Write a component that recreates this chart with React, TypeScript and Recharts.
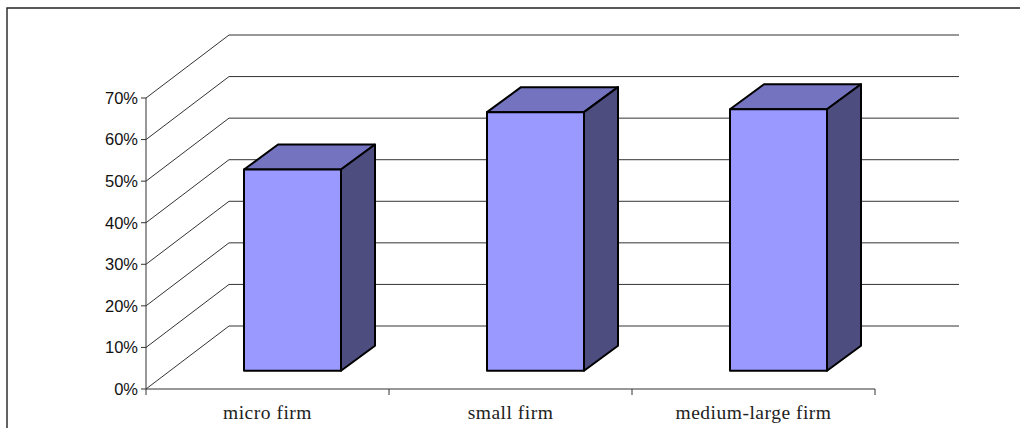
import { BarChart, Bar, XAxis, YAxis, CartesianGrid } from 'recharts'

const categories = ['micro firm', 'small firm', 'medium-large firm']
const shares = [48.4, 62.2, 62.9]
const yTicks = [0, 10, 20, 30, 40, 50, 60, 70]

const rows = categories.map((name, i) => ({ name, share: shares[i] }))

const FRONT = '#9999ff'
const TOP = '#7373bf'
const SIDE = '#4d4d80'
const GRID = '#333'

// projection of the 3D look: back wall offset, and where the bars sit in the depth
const WALL_DX = 83
const WALL_DY = -63
const BAR_DX = 25
const BAR_DY = -18.3
const BOX_DX = 34
const BOX_DY = -25

function WallLine(props: any) {
  const { x1, x2, y1, index } = props
  return (
    <path
      key={index}
      d={`M${x1},${y1} L${x1 + WALL_DX},${y1 + WALL_DY} L${x2 + WALL_DX + 1},${y1 + WALL_DY}`}
      fill="none"
      stroke={GRID}
      strokeWidth={1}
    />
  )
}

function Box(props: any) {
  const x = props.x + BAR_DX
  const y = props.y + BAR_DY
  const { width: w, height: h } = props
  return (
    <g stroke="#000" strokeWidth={2} strokeLinejoin="round">
      <path d={`M${x},${y} h${w} l${BOX_DX},${BOX_DY} h${-w} z`} fill={TOP} />
      <path d={`M${x + w},${y} l${BOX_DX},${BOX_DY} v${h} l${-BOX_DX},${-BOX_DY} z`} fill={SIDE} />
      <rect x={x} y={y} width={w} height={h} fill={FRONT} />
    </g>
  )
}

function CategoryTick(props: any) {
  const { x, y, payload, index, width, visibleTicksCount } = props
  const band = width / visibleTicksCount
  const axisY = y - 8
  return (
    <g>
      <path d={`M${x - band / 2},${axisY} v6`} stroke={GRID} fill="none" />
      {index === visibleTicksCount - 1 && (
        <path d={`M${x + band / 2},${axisY} v6`} stroke={GRID} fill="none" />
      )}
      <text
        x={x}
        y={axisY + 30}
        textAnchor="middle"
        fontFamily="'Liberation Serif', serif"
        fontSize={19.5}
        letterSpacing={0.5}
        fill="#222"
      >
        {payload.value}
      </text>
    </g>
  )
}

export default function App() {
  return (
    <div style={{ position: 'absolute', left: 0, top: 0, width: 1020, height: 428, overflow: 'hidden', background: '#fff' }}>
      <svg width={1020} height={428} style={{ position: 'absolute', left: 0, top: 0 }}>
        <path d="M7,428 V8 H1020" fill="none" stroke="#222" strokeWidth={1.4} />
      </svg>
      <div style={{ position: 'absolute', left: 0, top: 0 }}>
        <BarChart
          width={1020}
          height={428}
          data={rows}
          barSize={97}
          margin={{ top: 98, left: 86, right: 145, bottom: 9 }}
        >
          <CartesianGrid horizontal={WallLine} vertical={false} horizontalValues={yTicks} />
          <XAxis
            dataKey="name"
            height={30}
            interval={0}
            tick={<CategoryTick />}
            tickLine={false}
            axisLine={{ stroke: GRID }}
          />
          <YAxis
            width={60}
            domain={[0, 70]}
            ticks={yTicks}
            interval={0}
            tickSize={5}
            tickMargin={3}
            tickFormatter={(v: number) => `${v}%`}
            tick={{ fill: '#111', fontSize: 16.5, fontFamily: "'Liberation Sans', Arial, sans-serif" }}
            tickLine={{ stroke: GRID }}
            axisLine={{ stroke: GRID }}
          />
          <Bar dataKey="share" shape={Box} isAnimationActive={false} />
        </BarChart>
      </div>
    </div>
  )
}
